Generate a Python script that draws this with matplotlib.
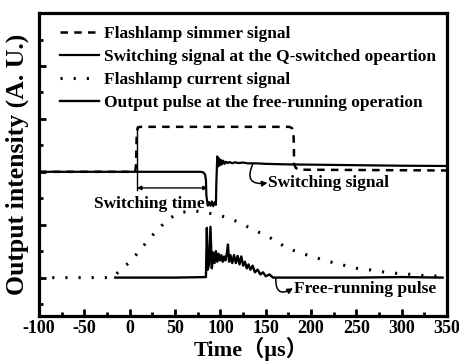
import numpy as np
import matplotlib
matplotlib.use("Agg")
import matplotlib.pyplot as plt
from matplotlib.ticker import MultipleLocator

# flashlamp simmer signal (dashed)
simmer_t = [-100, 6, 7, 7.5, 8, 9, 12, 100, 176, 179, 180.5, 181, 181.2, 183, 186, 350]
simmer_y = [5.0, 5.0, 5.3, 6.2, 6.55, 6.68, 6.7, 6.7, 6.7, 6.65, 6.5, 6.0, 5.3, 5.15, 5.08, 5.05]

# switching signal, Q-switched operation (solid)
switch_t = [-100, 78, 81, 83, 84, 84.5, 86, 87.5, 89, 90.5, 92, 93.5, 95, 95.5, 96.5, 97.5,
            98.5, 99.5, 100.5, 101.5, 103, 104.5, 106, 108, 110, 113, 116, 120, 125, 130,
            140, 150, 175, 200, 250, 300, 350]
switch_y = [5.0, 5.0, 4.98, 4.9, 4.7, 4.1, 3.72, 3.85, 3.72, 3.88, 3.7, 3.85, 3.75, 4.6, 5.58, 5.2,
            5.5, 5.25, 5.45, 5.28, 5.42, 5.3, 5.38, 5.33, 5.37, 5.32, 5.36, 5.33, 5.35, 5.32,
            5.32, 5.3, 5.28, 5.27, 5.25, 5.23, 5.22]

# flashlamp current signal (dotted)
current_t = [-100, -60, -20, -10.6, 2.3, 11.5, 21.4, 32.8, 44.6, 57.5, 70.3, 83.2, 96, 109, 121.9,
             136.4, 149.4, 162.4, 173.4, 188, 201, 213.8, 226.7, 239.6, 250.6, 265.3, 278,
             290.7, 304, 317, 329.6, 342.7]
current_y = [1.0, 1.0, 1.0, 1.26, 1.67, 2.05, 2.46, 2.89, 3.26, 3.47, 3.53, 3.46, 3.38, 3.25, 3.07,
             2.8, 2.61, 2.36, 2.11, 1.94, 1.79, 1.67, 1.54, 1.44, 1.35, 1.29, 1.22,
             1.17, 1.14, 1.10, 1.06, 1.06]

# output pulse, free-running operation (solid)
free_t = [-16, 0, 50, 84, 85, 86, 87.5, 89, 90.5, 92, 93.5, 95, 96.5, 98, 99.5, 101, 102.5, 104,
          105.5, 107, 108.3, 109.5, 111, 113, 115, 117, 119, 121, 123, 125, 127, 129, 131, 133,
          135.5, 138, 141, 144, 147, 150, 154, 158, 165, 200, 250, 300, 345]
free_y = [1.0, 1.0, 1.0, 1.02, 2.88, 1.3, 1.5, 2.92, 1.35, 1.95, 1.55, 2.0, 1.6, 1.9, 1.65, 1.85,
          1.6, 1.8, 1.65, 1.9, 2.25, 1.6, 1.85, 1.55, 1.85, 1.55, 1.82, 1.5, 1.8, 1.45, 1.6, 1.35,
          1.5, 1.3, 1.45, 1.2, 1.3, 1.12, 1.2, 1.05, 1.12, 1.0, 1.0, 1.0, 1.0, 1.02, 1.0]

labels = ["Flashlamp simmer signal",
          "Switching signal at the Q-switched opeartion",
          "Flashlamp current signal",
          "Output pulse at the free-running operation"]

# switching time marker
sw_start, sw_end = 8, 86
sw_top, sw_bottom, sw_arrow_y = 6.7, 4.3, 4.39

plt.rcParams['font.family'] = ['Liberation Serif', 'Noto Sans CJK SC', 'DejaVu Serif']
plt.rcParams['font.weight'] = 'bold'
plt.rcParams['axes.unicode_minus'] = False

fig = plt.figure(figsize=(4.6, 3.64), dpi=100)
ax = fig.add_axes([0.085, 0.132, 0.887, 0.832])

ax.plot(simmer_t, simmer_y, color='black', lw=1.8, ls=(0, (3, 2.5)), label=labels[0])
ax.plot(switch_t, switch_y, color='black', lw=1.6, label=labels[1])
ax.plot(current_t, current_y, color='black', lw=2.2, ls=(0, (0.7, 3.6)), label=labels[2])
ax.plot(free_t, free_y, color='black', lw=1.7, label=labels[3])

# switching time annotation
ax.plot([sw_start, sw_start], [sw_bottom, sw_top], color='black', lw=1.0)
ax.annotate("", xy=(sw_end, sw_arrow_y), xytext=(sw_start, sw_arrow_y),
            arrowprops=dict(arrowstyle='<|-|>', color='black', lw=1.0,
                            mutation_scale=6, shrinkA=0, shrinkB=0))
ax.text(22, 3.78, "Switching time", fontsize=12.5, fontweight='bold', ha='center', va='center')

ax.annotate("", xy=(152, 4.58), xytext=(136, 5.32),
            arrowprops=dict(arrowstyle='-|>', color='black', lw=1.1, mutation_scale=8,
                            shrinkA=0, shrinkB=0, connectionstyle='arc3,rad=0.9'))
ax.text(153, 4.56, "Switching signal", fontsize=12.5, fontweight='bold', ha='left', va='center')

ax.annotate("", xy=(180, 0.6), xytext=(161, 0.98),
            arrowprops=dict(arrowstyle='-|>', color='black', lw=1.1, mutation_scale=8,
                            shrinkA=0, shrinkB=0, connectionstyle='arc3,rad=0.9'))
ax.text(181, 0.58, "Free-running pulse", fontsize=12.5, fontweight='bold', ha='left', va='center')

ax.set_xlim(-100, 350)
ax.set_ylim(-0.45, 11.0)
ax.xaxis.set_major_locator(MultipleLocator(50))
ax.xaxis.set_minor_locator(MultipleLocator(25))
ax.set_yticks([1, 3, 5, 7, 9])
ax.yaxis.set_minor_locator(MultipleLocator(2))
ax.set_yticklabels([])
ax.tick_params(which='major', direction='in', length=5, width=2, labelsize=13, pad=3)
ax.tick_params(which='minor', direction='in', length=3, width=2)
ax.tick_params(axis='x', which='both', top=False)
ax.tick_params(axis='y', which='both', right=False)
for lab in ax.get_xticklabels():
    lab.set_fontweight('bold')
for sp in ax.spines.values():
    sp.set_linewidth(2.3)

ax.set_xlabel("Time（μs）", fontsize=16, fontweight='bold')
ax.xaxis.set_label_coords(0.52, -0.068)
ax.set_ylabel("Output intensity (A. U.)", fontsize=18.5, fontweight='bold', labelpad=4)

leg = ax.legend(loc='upper left', bbox_to_anchor=(0.05, 0.958), frameon=False,
                prop={'size': 12.5, 'weight': 'bold'}, handlelength=2.3, handletextpad=0.25,
                labelspacing=0.4, borderpad=0, borderaxespad=0)

fig.savefig("out.png", dpi=100)
